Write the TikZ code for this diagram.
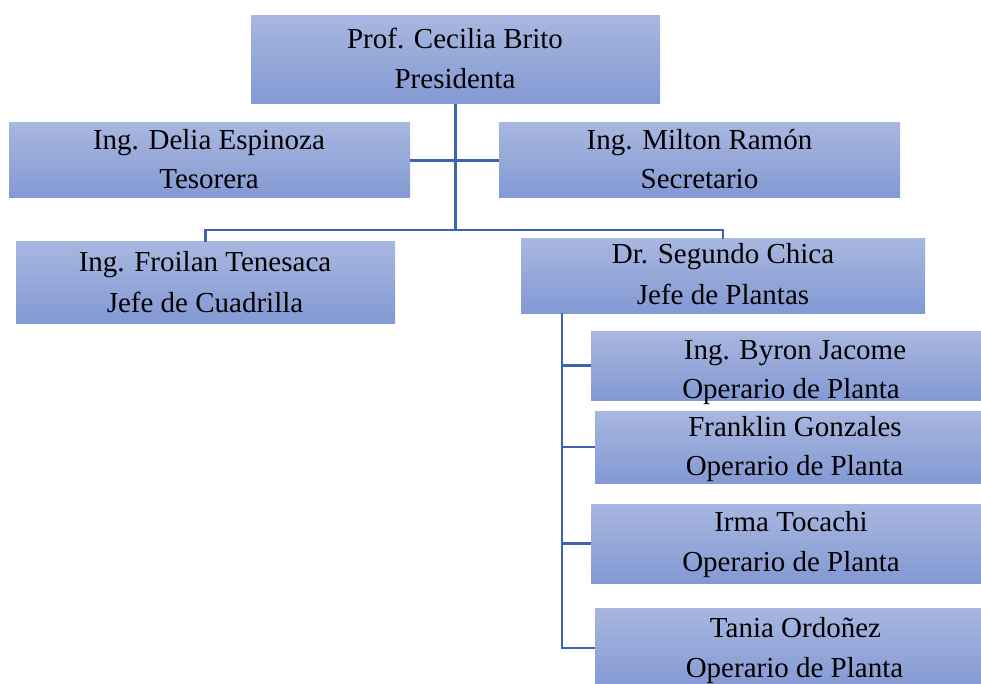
\documentclass[tikz,border=0pt]{standalone}
\usepackage{fontspec}
\setmainfont{Liberation Serif}
\definecolor{boxtop}{RGB}{168,183,224}
\definecolor{boxbot}{RGB}{131,153,211}
\definecolor{linec}{RGB}{62,100,174}
\begin{document}
\begin{tikzpicture}[x=1pt,y=-1pt,
  box/.style={rectangle, inner sep=0pt, outer sep=0pt, draw=none, top color=boxtop, bottom color=boxbot},
  lbl/.style={anchor=base, inner sep=0pt, outer sep=0pt, font=\fontsize{29}{40}\selectfont},
  conn/.style={draw=linec, line width=2.8pt}]
\useasboundingbox (0,0) rectangle (981,684);
% boxes
\node[box, minimum width=409pt, minimum height=88pt] (pres) at (455.5,60) {};
\node[box, minimum width=401pt, minimum height=75pt] (delia) at (209.5,160.5) {};
\node[box, minimum width=401pt, minimum height=75pt] (milton) at (699.5,160.5) {};
\node[box, minimum width=379pt, minimum height=81pt] (froilan) at (205.5,282.5) {};
\node[box, minimum width=404pt, minimum height=74pt] (segundo) at (723,276) {};
\node[box, minimum width=390pt, minimum height=69pt] (byron) at (786,365.5) {};
\node[box, minimum width=386pt, minimum height=72pt] (franklin) at (788,447) {};
\node[box, minimum width=390pt, minimum height=79pt] (irma) at (786,543.5) {};
\node[box, minimum width=386pt, minimum height=80pt] (tania) at (788,648) {};
% connectors
\coordinate (j) at (455.5,230);
\coordinate (sv) at (562,313);
\draw[conn] (pres.south) -- (j);
\draw[conn] (delia.east) -- (milton.west);
\draw[conn] (froilan.north) |- (j) -| (segundo.north);
\draw[conn] (sv) |- (tania.west);
\draw[conn] (sv |- byron.west) -- (byron.west);
\draw[conn] (sv |- franklin.west) -- (franklin.west);
\draw[conn] (sv |- irma.west) -- (irma.west);
% labels
\node[lbl] (presA) at (455,49) {Prof. Cecilia Brito};
\node[lbl] (presB) at (455,89) {Presidenta};
\node[lbl] (deliaA) at (209,150) {Ing. Delia Espinoza};
\node[lbl] (deliaB) at (209,189) {Tesorera};
\node[lbl] (miltonA) at (699.5,150) {Ing. Milton Ramón};
\node[lbl] (miltonB) at (699.5,189) {Secretario};
\node[lbl] (froilanA) at (205,272) {Ing. Froilan Tenesaca};
\node[lbl] (froilanB) at (205,312) {Jefe de Cuadrilla};
\node[lbl] (segundoA) at (723,264) {Dr. Segundo Chica};
\node[lbl] (segundoB) at (723,304) {Jefe de Plantas};
\node[lbl] (byronA) at (795,359) {Ing. Byron Jacome};
\node[lbl] (byronB) at (791,398) {Operario de Planta};
\node[lbl] (franklinA) at (795,436) {Franklin Gonzales};
\node[lbl] (franklinB) at (794.5,475) {Operario de Planta};
\node[lbl] (irmaA) at (791,531) {Irma Tocachi};
\node[lbl] (irmaB) at (791,571) {Operario de Planta};
\node[lbl] (taniaA) at (795.5,637) {Tania Ordoñez};
\node[lbl] (taniaB) at (794.5,677) {Operario de Planta};
\end{tikzpicture}
\end{document}
